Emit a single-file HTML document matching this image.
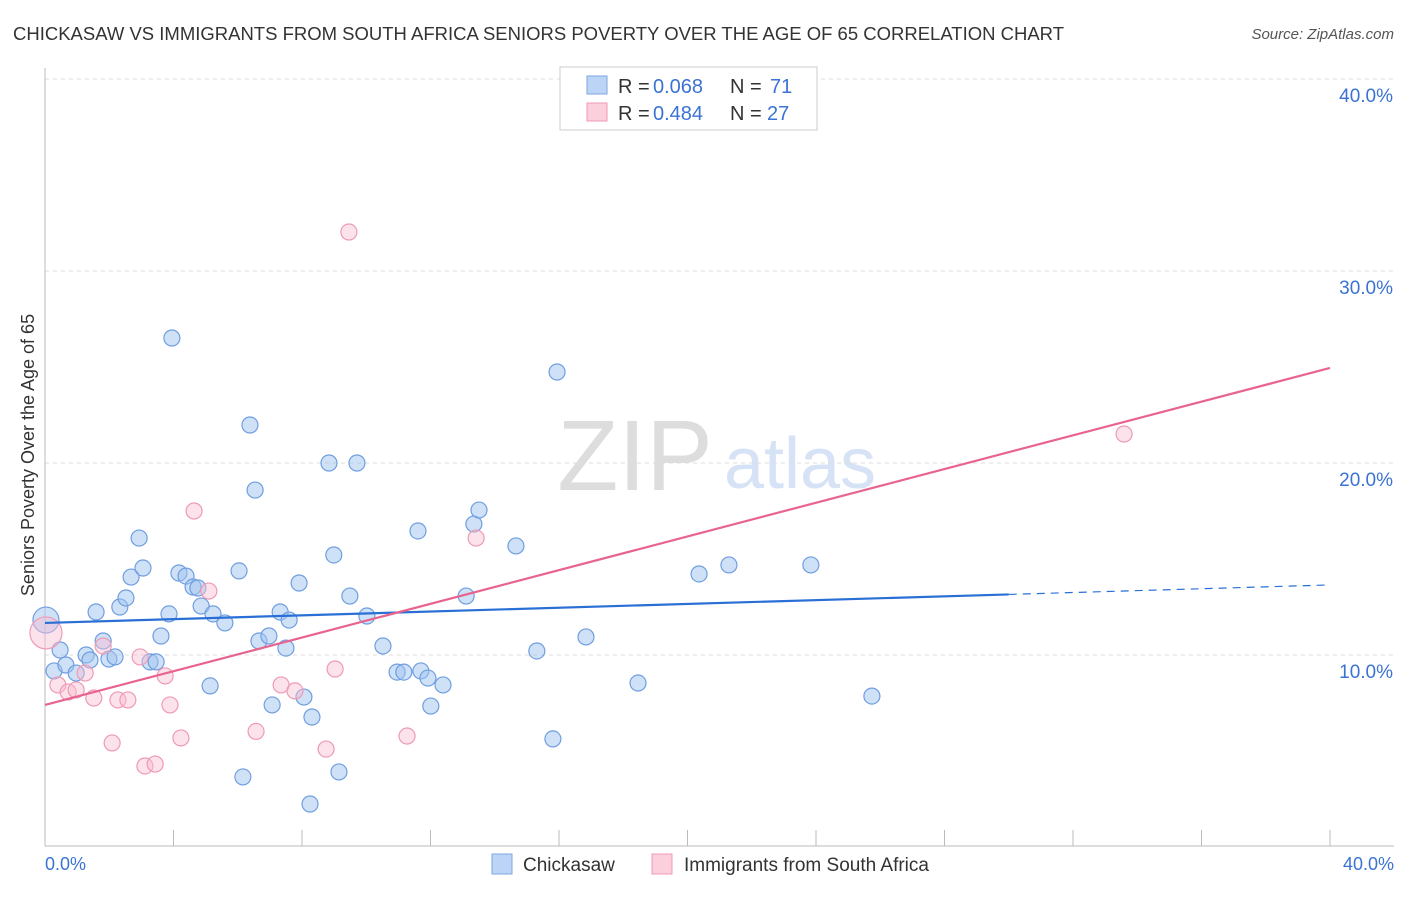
<!DOCTYPE html>
<html><head><meta charset="utf-8"><style>
body{margin:0;background:#fff;font-family:"Liberation Sans",Arial,sans-serif;}
svg text{font-family:"Liberation Sans",Arial,sans-serif;}
</style></head><body>
<svg id="chart" width="1406" height="892" xmlns="http://www.w3.org/2000/svg">
<text x="13" y="40" font-size="18" fill="#333" textLength="1051" lengthAdjust="spacingAndGlyphs">CHICKASAW VS IMMIGRANTS FROM SOUTH AFRICA SENIORS POVERTY OVER THE AGE OF 65 CORRELATION CHART</text>
<text x="1394" y="39" font-size="15" fill="#555" font-style="italic" text-anchor="end">Source: ZipAtlas.com</text>
<text x="635" y="490" font-size="100" fill="#ddd" font-family="Liberation Serif" text-anchor="middle">ZIP</text>
<text x="800" y="488" font-size="72" fill="#d6e2f5" text-anchor="middle">atlas</text>
<g id="grid"></g>
<g id="axes"></g>
<g id="marks"></g>
<text transform="translate(34,455) rotate(-90)" font-size="18" fill="#333" text-anchor="middle">Seniors Poverty Over the Age of 65</text>
<text x="45" y="870" font-size="18" fill="#3b73d4">0.0%</text>
<text x="1394" y="870" font-size="18" fill="#3b73d4" text-anchor="end">40.0%</text>
<g>
<rect x="560" y="67" width="257" height="63" fill="#fff" stroke="#ccc"/>
<rect x="587" y="76" width="20" height="18" fill="#bcd4f5" stroke="#7ea6e0"/>
<rect x="587" y="103" width="20" height="18" fill="#fbd0dc" stroke="#f099b3"/>
<text x="618" y="93" font-size="20" fill="#333">R =</text><text x="653" y="93" font-size="20" fill="#3b73d4">0.068</text>
<text x="730" y="93" font-size="20" fill="#333">N =</text><text x="770" y="93" font-size="20" fill="#3b73d4">71</text>
<text x="618" y="120" font-size="20" fill="#333">R =</text><text x="653" y="120" font-size="20" fill="#3b73d4">0.484</text>
<text x="730" y="120" font-size="20" fill="#333">N =</text><text x="767" y="120" font-size="20" fill="#3b73d4">27</text>
</g>
<g>
<rect x="492" y="854" width="20" height="20" fill="#bcd4f5" stroke="#7ea6e0"/>
<text x="523" y="871" font-size="19" fill="#333">Chickasaw</text>
<rect x="652" y="854" width="20" height="20" fill="#fbd0dc" stroke="#f099b3"/>
<text x="684" y="871" font-size="19" fill="#333">Immigrants from South Africa</text>
</g>
</svg>
<script>
const yTicks=[10,20,30,40];
const yTickLabels=["10.0%","20.0%","30.0%","40.0%"];
const xTicks=[0,4,8,12,16,20,24,28,32,36,40];
const blueX=[0.03,0.28,0.47,0.65,0.97,1.28,1.40,1.59,1.81,1.99,2.18,2.33,2.52,2.68,2.93,3.05,3.27,3.46,3.61,3.86,3.95,4.17,4.39,4.61,4.76,4.86,5.14,5.23,5.60,6.04,6.16,6.38,6.54,6.66,6.97,7.07,7.32,7.50,7.60,7.91,8.06,8.25,8.31,8.84,8.99,9.15,9.49,9.71,10.02,10.52,10.96,11.17,11.61,11.70,11.92,12.01,12.39,13.11,13.35,13.51,14.66,15.31,15.81,15.94,16.84,18.46,20.36,21.29,23.84,25.74];
const blueY=[11.82,9.17,10.26,9.48,9.06,10.00,9.74,12.24,10.73,9.79,9.90,12.50,12.97,14.06,16.09,14.53,9.64,9.64,10.99,12.14,26.51,14.27,14.11,13.54,13.49,12.55,8.39,12.14,11.67,14.38,3.65,21.98,18.59,10.73,10.99,7.40,12.24,10.36,11.82,13.75,7.81,2.24,6.77,20.00,15.21,3.91,13.07,20.00,12.03,10.47,9.11,9.11,16.46,9.17,8.80,7.34,8.44,13.07,16.82,17.55,15.68,10.21,5.63,24.74,10.94,8.54,14.22,14.69,14.69,7.86];
const pinkX=[0.03,0.40,0.72,0.97,1.25,1.52,1.81,2.09,2.27,2.58,2.96,3.11,3.43,3.74,3.89,4.23,4.64,5.10,6.57,7.35,7.78,8.75,9.03,9.46,11.27,13.42,33.59];
const pinkY=[11.15,8.44,8.07,8.18,9.06,7.76,10.47,5.42,7.66,7.66,9.90,4.22,4.32,8.91,7.40,5.68,17.50,13.33,6.02,8.44,8.13,5.10,9.27,32.03,5.78,16.09,21.51];
const blueTrend=[11.67,13.65];
const pinkTrend=[7.40,24.95];
const NS="http://www.w3.org/2000/svg";
const X=v=>45+v*32.125, Y=v=>847-v*19.2;
function mk(t,a,p){const e=document.createElementNS(NS,t);for(const k in a)e.setAttribute(k,a[k]);p.appendChild(e);return e;}
const grid=document.getElementById('grid'),axes=document.getElementById('axes'),marks=document.getElementById('marks');
yTicks.forEach((t,i)=>{
 const l=mk('line',{x1:45,x2:1394,y1:Y(t),y2:Y(t),stroke:'#ddd','stroke-dasharray':'4,4'},grid);
 
 
 const tx=mk('text',{x:1393,y:Y(t)+23,'font-size':19,fill:'#3b73d4','text-anchor':'end'},grid);
 tx.textContent=yTickLabels[i];
 
 
});
const ax=mk('line',{x1:45,x2:1394,y1:846,y2:846,stroke:'#bbb'},axes);


const ay=mk('line',{x1:45,x2:45,y1:68,y2:846,stroke:'#bbb'},axes);


xTicks.forEach(t=>{
 const l=mk('line',{x1:X(t),x2:X(t),y1:830,y2:846,stroke:'#bbb'},axes);
 
 
});
blueX.forEach((x,i)=>{
 const c=mk('circle',{cx:X(x),cy:Y(blueY[i]),r:i==0?13:8,fill:'rgba(160,195,240,0.5)',stroke:'#6f9ee0','stroke-width':1.2},marks);
 
 
});
pinkX.forEach((x,i)=>{
 const c=mk('circle',{cx:X(x),cy:Y(pinkY[i]),r:i==0?16:8,fill:'rgba(248,190,208,0.45)',stroke:'#ee9ab5','stroke-width':1.2},marks);
 
 
});
const bAt=x=>blueTrend[0]+(blueTrend[1]-blueTrend[0])*x/40;
const b1=mk('line',{x1:X(0),y1:Y(bAt(0)),x2:X(30),y2:Y(bAt(30)),stroke:'#2a6fd6','stroke-width':2.2},marks);


const b2=mk('line',{x1:X(30),y1:Y(bAt(30)),x2:X(40),y2:Y(bAt(40)),stroke:'#2a6fd6','stroke-width':1.2,'stroke-dasharray':'8,6'},marks);


const p1=mk('line',{x1:X(0),y1:Y(pinkTrend[0]),x2:X(40),y2:Y(pinkTrend[1]),stroke:'#e8648f','stroke-width':2.2},marks);


</script>
</body></html>
